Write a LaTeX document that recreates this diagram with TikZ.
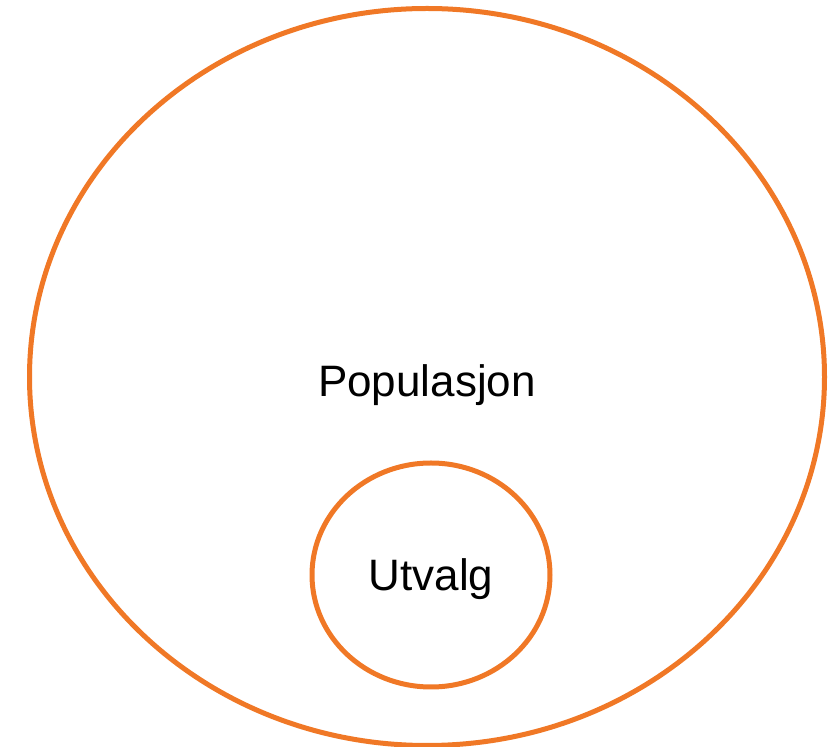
\documentclass[tikz,border=0pt]{standalone}
\usepackage{fontspec}
\setmainfont{Liberation Sans}
\usepackage{tikz}
\usetikzlibrary{shapes.geometric}
\definecolor{setorange}{RGB}{240,120,38}
\tikzset{setring/.style={ellipse, draw=setorange, line width=5pt, inner sep=0pt},
         settext/.style={font=\fontsize{44}{52}\selectfont, inner sep=0pt}}

\begin{document}
\begin{tikzpicture}[x=1pt,y=1pt]
\useasboundingbox (0,0) rectangle (833,747);
\node[setring, minimum width=795, minimum height=737,
      label={[settext, yshift=-8pt]center:Populasjon}] (Populasjon) at (427,370) {};
\node[setring, minimum width=238, minimum height=224,
      label={[settext, yshift=-4pt]center:Utvalg}] (Utvalg) at (431,172) {};
\end{tikzpicture}
\end{document}
